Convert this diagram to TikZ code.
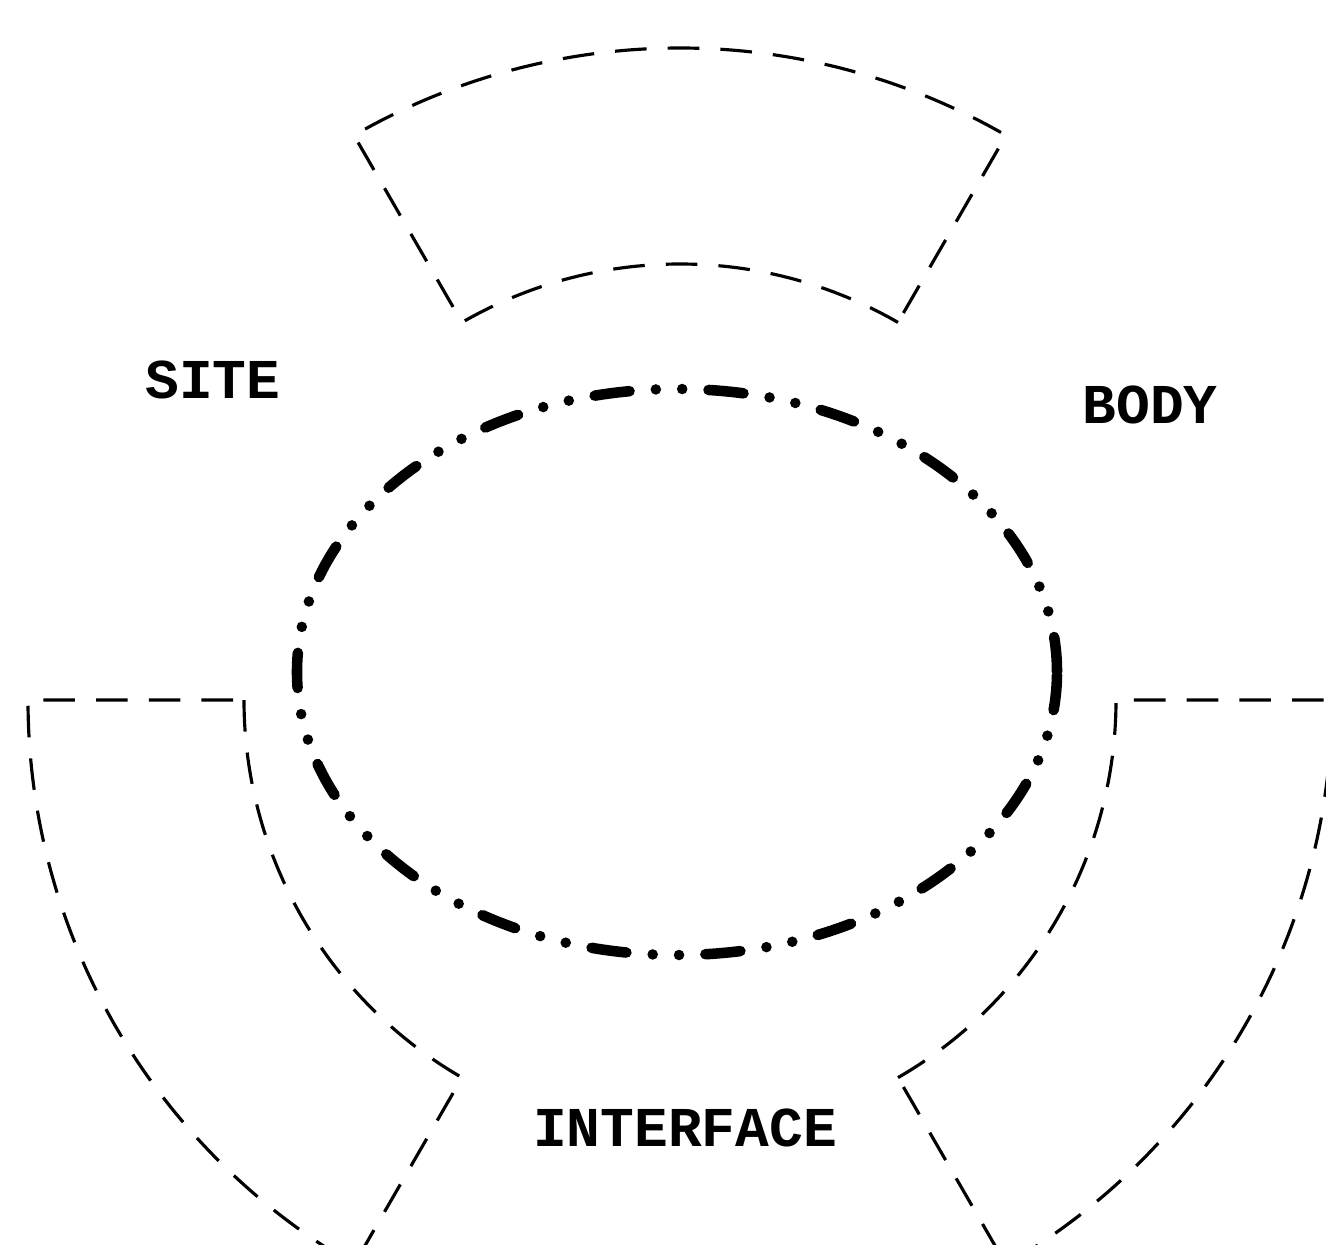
\documentclass[tikz,border=0pt]{standalone}
\usepackage{fontspec}
\setmonofont{Liberation Mono}
\begin{document}
\begin{tikzpicture}[
        sectorline/.style={line width=0.9pt, black, dash pattern=on 9pt off 6pt},
        ringline/.style={line width=3pt, black, line cap=round,
            dash pattern=on 10pt off 7.5pt on 0pt off 7.5pt on 0pt off 7.5pt},
        labeltext/.style={font=\ttfamily\bfseries\fontsize{16}{16}\selectfont, inner sep=0pt}
    ]
        \useasboundingbox (-6.80,-5.44) rectangle (6.46,7.00);

        % Pierscien srodkowy
        \draw[ringline] (-0.03,0.28) ellipse (3.80cm and 2.83cm);

        % Wycinki
        % Gorny
        \draw[sectorline] (60:4.36) arc (60:120:4.36) -- (120:6.52) arc (120:60:6.52) -- cycle;
        % Lewy dolny
        \draw[sectorline] (180:4.36) arc (180:240:4.36) -- (240:6.52) arc (240:180:6.52) -- cycle;
        % Prawy dolny
        \draw[sectorline] (300:4.36) arc (300:360:4.36) -- (360:6.52) arc (360:300:6.52) -- cycle;

        % Oznaczenia
        \node[labeltext] (site) at (-4.67,3.20) {SITE};
        \node[labeltext] (body) at (4.70,2.95) {BODY};
        \node[labeltext] (interface) at (0.05,-4.28) {INTERFACE};
    \end{tikzpicture}
\end{document}
